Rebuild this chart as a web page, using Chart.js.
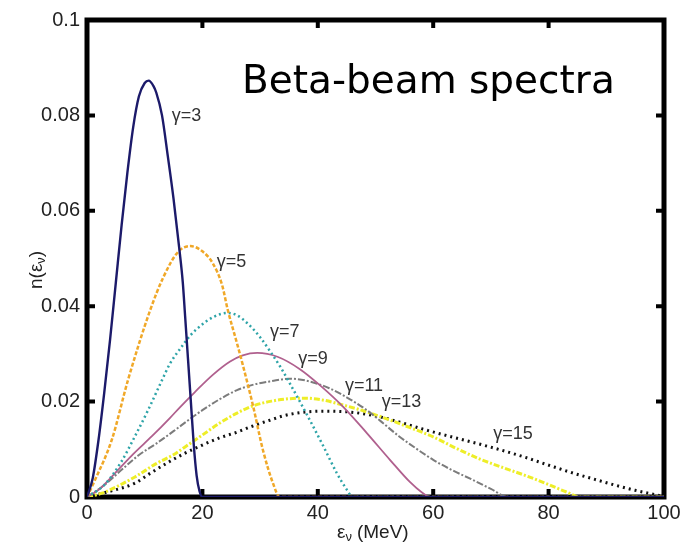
<!DOCTYPE html>
<html>
<head>
<meta charset="utf-8">
<script src="https://cdn.jsdelivr.net/npm/chart.js@4/dist/chart.umd.min.js"></script>
<style>
  html, body { margin: 0; padding: 0; background: #fff; }
  #wrap { width: 691px; height: 544px; position: relative; }
</style>
</head>
<body>
<div id="wrap"><canvas id="spectra" width="691" height="544"></canvas></div>
<script>
// energies (MeV) and n(E), one pair per gamma
const e3  = [0, 1, 2, 3, 4, 5, 6, 7, 8, 9, 10, 10.7, 11.5, 12, 13, 14, 15, 16, 16.6, 17, 17.5, 18, 18.5, 19, 19.5, 20, 100];
const n3  = [0, 0.004, 0.012, 0.022, 0.033, 0.045, 0.057, 0.068, 0.0775, 0.084, 0.0868, 0.0873, 0.0862, 0.0848, 0.08, 0.0715, 0.0625, 0.052, 0.045, 0.038, 0.029, 0.02, 0.011, 0.0045, 0.0012, 0, 0];

const e5  = [0, 1.4, 4.3, 7.1, 10.9, 13.2, 15.8, 17.9, 20, 21.8, 23.4, 24.4, 26, 27, 28.8, 30.5, 32.2, 33.4, 100];
const n5  = [0, 0.0036, 0.012, 0.0245, 0.039, 0.046, 0.0514, 0.0526, 0.0515, 0.049, 0.0445, 0.0392, 0.0322, 0.0277, 0.019, 0.0098, 0.003, 0, 0];

const e7  = [0, 3, 6, 8, 10.5, 13, 14.4, 16.1, 18, 20, 22, 24.3, 26, 28, 30, 31.7, 33.5, 35.2, 38.1, 40.9, 43.3, 45, 46.1, 100];
const n7  = [0, 0.0025, 0.0075, 0.012, 0.018, 0.0245, 0.028, 0.031, 0.034, 0.0362, 0.0378, 0.0386, 0.0381, 0.0362, 0.0335, 0.0306, 0.0273, 0.0237, 0.0173, 0.0108, 0.005, 0.0016, 0, 0];

const e9  = [0, 2, 5.4, 8, 11.3, 14.4, 16.1, 18.7, 21.8, 24.8, 27, 29.5, 33, 36.9, 40.4, 44.4, 48.5, 52.5, 56, 58, 59.5, 100];
const n9  = [0, 0.0015, 0.0057, 0.009, 0.0128, 0.0166, 0.0188, 0.022, 0.0256, 0.0284, 0.0297, 0.0302, 0.0294, 0.0268, 0.0234, 0.0189, 0.0134, 0.0078, 0.0031, 0.001, 0, 0];

const e11 = [0, 3, 6, 9, 12, 15, 18, 20, 23, 26, 29, 32, 35, 38, 42, 45, 48.5, 51, 54, 57, 60, 63, 67, 70, 73, 100];
const n11 = [0, 0.0025, 0.0057, 0.0088, 0.0112, 0.0138, 0.0165, 0.0182, 0.0205, 0.0224, 0.0236, 0.0243, 0.0248, 0.0244, 0.0228, 0.0209, 0.0182, 0.0158, 0.0128, 0.0102, 0.0078, 0.0058, 0.0035, 0.0017, 0, 0];

const e13 = [0, 2.6, 8.3, 12, 14.9, 17, 20, 23, 26, 29, 32, 35, 38, 41, 44, 47, 51, 55, 60, 64, 68, 72, 76, 80, 83, 85.5, 100];
const n13 = [0, 0.0008, 0.0042, 0.007, 0.0088, 0.0105, 0.013, 0.0155, 0.0176, 0.0192, 0.0201, 0.0206, 0.0207, 0.0203, 0.0194, 0.0184, 0.0168, 0.015, 0.0126, 0.0102, 0.008, 0.0062, 0.0045, 0.0026, 0.0011, 0, 0];

const e15 = [0, 4, 8.3, 11, 14.4, 17, 20, 23, 26, 29, 31.7, 34, 37, 41, 45.6, 50, 54.2, 58, 62.9, 68, 71.6, 76, 79.7, 84, 88, 91.2, 95, 98.8, 100];
const n15 = [0, 0.0012, 0.0029, 0.005, 0.0075, 0.0092, 0.0109, 0.0124, 0.0136, 0.015, 0.0161, 0.017, 0.0177, 0.018, 0.0178, 0.017, 0.0157, 0.0143, 0.0127, 0.0111, 0.0099, 0.0083, 0.0068, 0.0051, 0.0037, 0.0026, 0.0014, 0.0004, 0];

const gammas = [3, 5, 7, 9, 11, 13, 15];
// where each "γ=.." label sits, in data units
const labelX = [14.7, 22.5, 31.7, 36.6, 44.7, 51.1, 70.4];
const labelY = [0.0799, 0.0493, 0.0346, 0.0289, 0.0233, 0.0199, 0.0132];

const xTicks = [0, 20, 40, 60, 80, 100];
const yTicks = [0, 0.02, 0.04, 0.06, 0.08, 0.1];

const allE = [e3, e5, e7, e9, e11, e13, e15];
const allN = [n3, n5, n7, n9, n11, n13, n15];
const colors = ['#1c1a6a', '#f0a828', '#2ea4a8', '#b0608e', '#7c7c7c', '#eeee28', '#111111'];
const dashes = [[], [4, 2], [2, 3], [], [7, 2, 2, 2], [6, 2, 2, 2], [2, 4]];
const widths = [2.4, 2.5, 2.5, 1.8, 2, 3, 3];

const datasets = gammas.map((g, i) => ({
    label: 'γ=' + g,
    data: allE[i].map((e, j) => ({ x: e, y: allN[i][j] })),
    borderColor: colors[i],
    borderWidth: widths[i],
    borderDash: dashes[i],
    pointRadius: 0,
    cubicInterpolationMode: 'monotone',
    fill: false
}));

const frame = {
    id: 'frame',
    beforeDatasetsDraw(c) {
        const a = c.chartArea, ctx = c.ctx;
        ctx.save();
        ctx.strokeStyle = '#000';
        ctx.lineWidth = 5;
        ctx.strokeRect(a.left, a.top, a.right - a.left, a.bottom - a.top);
        // inward ticks on all four sides
        ctx.lineWidth = 4;
        const xs = c.scales.x, ys = c.scales.y;
        xTicks.slice(1, -1).forEach(v => {
            const px = xs.getPixelForValue(v);
            ctx.beginPath();
            ctx.moveTo(px, a.bottom); ctx.lineTo(px, a.bottom - 8);
            ctx.moveTo(px, a.top); ctx.lineTo(px, a.top + 8);
            ctx.stroke();
        });
        yTicks.slice(1, -1).forEach(v => {
            const py = ys.getPixelForValue(v);
            ctx.beginPath();
            ctx.moveTo(a.left, py); ctx.lineTo(a.left + 8, py);
            ctx.moveTo(a.right, py); ctx.lineTo(a.right - 8, py);
            ctx.stroke();
        });
        ctx.restore();
    },
    afterDraw(c) {
        const ctx = c.ctx, xs = c.scales.x, ys = c.scales.y;
        ctx.save();
        ctx.fillStyle = '#333';
        ctx.font = '18px "Liberation Sans", Arial, sans-serif';
        ctx.textBaseline = 'middle';
        ctx.textAlign = 'left';
        gammas.forEach((g, i) => {
            ctx.fillText('γ=' + g, xs.getPixelForValue(labelX[i]), ys.getPixelForValue(labelY[i]));
        });

        // title inside the plot
        ctx.fillStyle = '#000';
        ctx.font = '39px "DejaVu Sans", sans-serif';
        ctx.textBaseline = 'alphabetic';
        ctx.fillText('Beta-beam spectra', 242, 93);

        // axis titles with subscript nu
        ctx.fillStyle = '#222';
        const big = '19px "Liberation Sans", Arial, sans-serif';
        const small = '13px "Liberation Sans", Arial, sans-serif';
        let x0 = 337, y0 = 538;
        ctx.font = big; ctx.fillText('ε', x0, y0);
        x0 += ctx.measureText('ε').width;
        ctx.font = small; ctx.fillText('ν', x0, y0 + 3);
        x0 += ctx.measureText('ν').width + 5;
        ctx.font = big; ctx.fillText('(MeV)', x0, y0);
        ctx.translate(42, 289);
        ctx.rotate(-Math.PI / 2);
        x0 = 0;
        ctx.font = big; ctx.fillText('n(ε', x0, 0);
        x0 += ctx.measureText('n(ε').width;
        ctx.font = small; ctx.fillText('ν', x0, 3);
        x0 += ctx.measureText('ν').width;
        ctx.font = big; ctx.fillText(')', x0, 0);
        ctx.restore();
    }
};

new Chart(document.getElementById('spectra'), {
    type: 'line',
    data: { datasets: datasets },
    plugins: [frame],
    options: {
        responsive: false,
        animation: false,
        layout: { padding: { top: 20, right: 27, left: 0, bottom: 0 } },
        plugins: { legend: { display: false }, tooltip: { enabled: false } },
        scales: {
            x: {
                type: 'linear', min: 0, max: 100,
                afterBuildTicks: s => { s.ticks = xTicks.map(v => ({ value: v })); },
                afterFit: s => { s.height = 47; },
                grid: { display: false, drawTicks: false },
                border: { display: false },
                ticks: { color: '#222', padding: 4, font: { family: 'Liberation Sans', size: 20 } }
            },
            y: {
                type: 'linear', min: 0, max: 0.1,
                afterBuildTicks: s => { s.ticks = yTicks.map(v => ({ value: v })); },
                afterFit: s => { s.width = 87; },
                grid: { display: false, drawTicks: false },
                border: { display: false },
                ticks: { color: '#222', padding: 7, font: { family: 'Liberation Sans', size: 20 },
                    callback: v => String(Math.round(v * 100) / 100) }
            }
        }
    }
});
</script>
</body>
</html>
